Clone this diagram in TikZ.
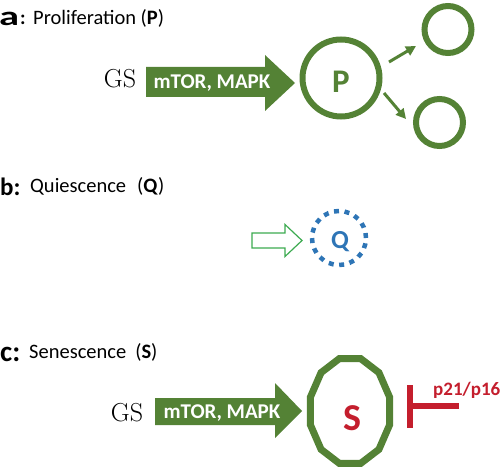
\documentclass[tikz,border=0pt]{standalone}
\usepackage{fontspec}
\usepackage{graphicx}
\usetikzlibrary{arrows.meta}
\newfontfamily\cf{Carlito}
\definecolor{gr}{RGB}{84,130,53}
\definecolor{hg}{RGB}{60,170,80}
\definecolor{bl}{RGB}{46,117,182}
\definecolor{rd}{RGB}{196,30,45}
\tikzset{
  title/.style={anchor=base west, inner sep=0pt, font=\cf\fontsize{20.5}{24}\selectfont},
  lbl/.style={anchor=base west, inner sep=0pt},
  gs/.style={inner sep=0pt, font=\fontsize{26}{28}\selectfont},
  blockarrow/.style={fill=gr},
  arrtext/.style={inner sep=0pt, text=white, font=\cf\bfseries\fontsize{21}{24}\selectfont},
  cell/.style={circle, draw=gr, line width=6pt, inner sep=0pt},
  smallarr/.style={draw=gr, line width=3pt, -{Triangle[length=10pt,width=10pt]}},
  tbar/.style={draw=rd, line width=6pt}
}
\begin{document}
\begin{tikzpicture}[x=1pt,y=-1pt]
\useasboundingbox (0,0) rectangle (500,470);
% ---------- panel a
\node[lbl] (la) at (-1,26) {\cf\bfseries\fontsize{27}{30}\selectfont\scalebox{1.5}[1]{a}};
\node[lbl] (lac) at (20,25) {\cf\bfseries\fontsize{20}{24}\selectfont :};
\node[title] (ta) at (33,25) {Proliferation (\textbf{P})};
\node[gs] (gsa) at (120,79) {GS};
\fill[blockarrow] (146,67) -- (265,67) -- (265,55) -- (295,83) -- (265,111) -- (265,97) -- (146,97) -- cycle;
\node[arrtext] (ma) at (212,83) {mTOR, MAPK};
\node[cell, minimum size=77pt] (P) at (341,78) {};
\node[inner sep=0pt, text=gr, font=\cf\bfseries\fontsize{33}{36}\selectfont, anchor=base] (Pl) at (341,93) {P};
\node[cell, minimum size=47pt] (c1) at (448,29.5) {};
\node[cell, minimum size=47pt] (c2) at (439.5,122.5) {};
\draw[smallarr] ([shift={(48,-16)}]P.center) -- ([shift={(-32,16.5)}]c1.center);
\draw[smallarr] ([shift={(43,15)}]P.center) -- ([shift={(-33.5,-3.5)}]c2.center);
% ---------- panel b
\node[lbl] (lb) at (0,196) {\cf\bfseries\fontsize{25}{28}\selectfont b:};
\node[title] (tb) at (30,193) {Quiescence\hspace{11pt}(\textbf{Q})};
\draw[draw=hg, line width=1.2pt] (252,233) -- (285,233) -- (285,224.5) -- (302,240.5) -- (285,256.5) -- (285,248) -- (252,248) -- cycle;
\node[circle, draw=bl, line width=4.5pt, dash pattern=on 5pt off 5.6pt, minimum size=54pt, inner sep=0pt] (Q) at (339,238) {};
\node[inner sep=0pt, text=bl, font=\cf\bfseries\fontsize{26}{30}\selectfont, anchor=base] (Ql) at (340,248) {Q};
% ---------- panel c
\node[lbl] (lc) at (0,361) {\cf\bfseries\fontsize{29}{32}\selectfont c:};
\node[title] (tc) at (29,358) {Senescence\hspace{9pt}(\textbf{S})};
\node[gs] (gsc) at (127,413) {GS};
\fill[blockarrow] (155,398) -- (275,398) -- (275,383) -- (302,411) -- (275,438) -- (275,425) -- (155,425) -- cycle;
\node[arrtext] (mc) at (222,413) {mTOR, MAPK};
\draw[draw=gr, line width=7pt] plot[samples at={75,105,...,405}] ({350+40.9*cos(\x)},{411+54.3*sin(\x)}) -- cycle;
\node[inner sep=0pt, text=rd, font=\cf\bfseries\fontsize{38}{40}\selectfont, anchor=base] (Sl) at (352,430) {S};
\coordinate (tbt) at (410,385);
\coordinate (tbb) at (410,428);
\coordinate (tbe) at (459,406);
\draw[tbar] (tbt) -- (tbb);
\draw[tbar] (tbe) -- (tbt |- tbe);
\node[inner sep=0pt, text=rd, font=\cf\bfseries\fontsize{19}{22}\selectfont, anchor=base west] (pp) at (433,395) {p21/p16};
\end{tikzpicture}
\end{document}
